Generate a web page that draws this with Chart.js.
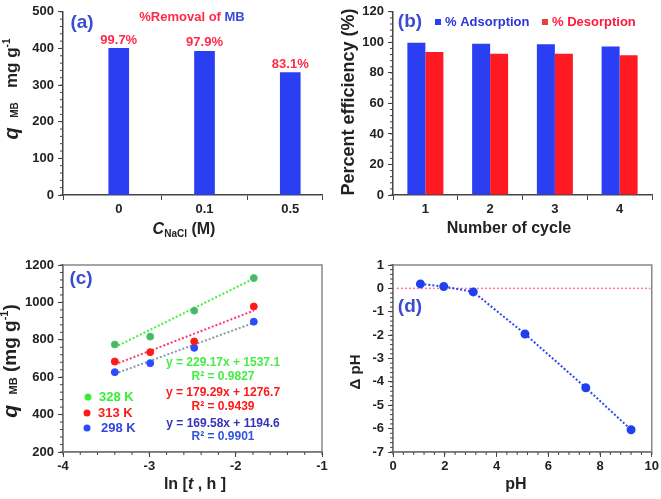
<!DOCTYPE html>
<html>
<head>
<meta charset="utf-8">
<script src="https://cdn.jsdelivr.net/npm/chart.js@4.4.1/dist/chart.umd.min.js"></script>
<style>
  body { margin: 0; background: #fff; }
  #wrap { position: relative; width: 661px; height: 499px; overflow: hidden; }
  .panel { position: absolute; }
</style>
</head>
<body>
<div id="wrap">
  <div class="panel" style="left:0;top:0;width:330px;height:250px"><canvas id="chartA"></canvas></div>
  <div class="panel" style="left:330px;top:0;width:331px;height:250px"><canvas id="chartB"></canvas></div>
  <div class="panel" style="left:0;top:250px;width:330px;height:249px"><canvas id="chartC"></canvas></div>
  <div class="panel" style="left:330px;top:250px;width:331px;height:249px"><canvas id="chartD"></canvas></div>
</div>
<script>
// (a) effect of NaCl
const saltConc = ["0", "0.1", "0.5"];
const qSalt = [400, 392, 334];
const removalLabels = ["99.7%", "97.9%", "83.1%"];

// (b) reuse cycles
const cycles = ["1", "2", "3", "4"];
const adsorption = [99.8, 99.1, 98.7, 97.2];
const desorption = [93.6, 92.5, 92.5, 91.5];

// (c) kinetics, ln t vs q
const lnT = [-3.40, -2.99, -2.48, -1.79];
const q328 = [775, 817, 956, 1130];
const q313 = [684, 734, 791, 978];
const q298 = [627, 675, 757, 897];
// trend line ends (at first and last lnT)
const fitEnds = [-3.40, -1.79];
const fit328 = [760, 1127];
const fit313 = [668, 956];
const fit298 = [618, 891];

// (d) point of zero charge
const pHinit = [1.06, 1.96, 3.1, 5.1, 7.45, 9.2];
const deltaPH = [0.19, 0.08, -0.15, -1.95, -4.25, -6.05];
const zeroEnds = [0.15, 9.95];

const FONT = "'Liberation Sans', Arial, sans-serif";
const BLUE = "#2a3ff2";
const RED = "#ff1a22";
const LABEL_BLUE = "#3a4bd6";
const AXIS = "#444";

Chart.defaults.font.family = FONT;
Chart.defaults.font.size = 13;
Chart.defaults.font.weight = "bold";
Chart.defaults.color = "#222";
Chart.defaults.animation = false;

function pts(xs, ys) {
  return xs.map((x, i) => ({ x: x, y: ys[i] }));
}

// draws a line of text made of pieces (italic, sub, sup), centred at x,y
function rich(ctx, parts, x, y, rot, size) {
  ctx.save();
  ctx.translate(x, y);
  if (rot) ctx.rotate(rot);
  let total = 0;
  parts.forEach(p => {
    ctx.font = (p.i ? "italic " : "") + "bold " + (p.s || size) + "px " + FONT;
    p.w = ctx.measureText(p.t).width;
    total += p.w;
  });
  let cx = -total / 2;
  ctx.textBaseline = "middle";
  ctx.textAlign = "left";
  parts.forEach(p => {
    ctx.font = (p.i ? "italic " : "") + "bold " + (p.s || size) + "px " + FONT;
    ctx.fillStyle = p.c || "#222";
    ctx.fillText(p.t, cx, p.dy || 0);
    cx += p.w;
  });
  ctx.restore();
}

const notesPlugin = {
  id: "notes",
  afterDraw(chart, args, opts) {
    const ctx = chart.ctx;
    (opts.items || []).forEach(it => {
      if (it.dot) {
        ctx.beginPath();
        ctx.arc(it.dot[0], it.dot[1], 3.5, 0, Math.PI * 2);
        ctx.fillStyle = it.c;
        ctx.fill();
      }
      if (it.sq) {
        ctx.fillStyle = it.c;
        ctx.fillRect(it.sq[0], it.sq[1] - 3, 6, 6);
      }
      if (it.parts) {
        rich(ctx, it.parts, it.x, it.y, it.rot, it.s);
      } else if (it.t) {
        ctx.save();
        ctx.font = "bold " + it.s + "px " + FONT;
        ctx.fillStyle = it.c || "#222";
        ctx.textAlign = it.align || "center";
        ctx.textBaseline = "middle";
        ctx.fillText(it.t, it.x, it.y);
        ctx.restore();
      }
    });
  }
};

const minorPlugin = {
  id: "minor",
  afterDraw(chart, args, opts) {
    const ctx = chart.ctx;
    const a = chart.chartArea;
    ctx.save();
    ctx.strokeStyle = opts.color || AXIS;
    ctx.lineWidth = 1;
    if (opts.box) {
      ctx.strokeStyle = "#888";
      ctx.lineWidth = 1.5;
      ctx.strokeRect(a.left, a.top, a.right - a.left, a.bottom - a.top);
      ctx.strokeStyle = opts.color || AXIS;
      ctx.lineWidth = 1;
    }
    ["x", "y"].forEach(k => {
      const step = opts[k];
      if (!step) return;
      const sc = chart.scales[k];
      const n = Math.round((sc.max - sc.min) / step);
      for (let i = 0; i <= n; i++) {
        const p = sc.getPixelForValue(sc.min + i * step);
        ctx.beginPath();
        if (k === "x") { ctx.moveTo(p, a.bottom); ctx.lineTo(p, a.bottom + 3); }
        else { ctx.moveTo(a.left, p); ctx.lineTo(a.left - 3, p); }
        ctx.stroke();
      }
    });
    ctx.restore();
  }
};

const barLabelPlugin = {
  id: "barLabels",
  afterDatasetsDraw(chart, args, opts) {
    if (!opts.labels) return;
    const ctx = chart.ctx;
    const meta = chart.getDatasetMeta(0);
    ctx.save();
    ctx.font = "bold 13px " + FONT;
    ctx.fillStyle = opts.color;
    ctx.textAlign = "center";
    ctx.textBaseline = "bottom";
    meta.data.forEach((bar, i) => {
      ctx.fillText(opts.labels[i], bar.x, bar.y - 2);
    });
    ctx.restore();
  }
};

function yAxis(min, max, step, width) {
  return {
    min: min, max: max,
    ticks: { stepSize: step, padding: 4, callback: v => String(v) },
    grid: { drawOnChartArea: false, tickLength: 5, color: AXIS, tickColor: AXIS },
    border: { color: AXIS, width: 1.5 },
    afterFit: s => { s.width = width; }
  };
}

// ---------- (a) ----------
new Chart(document.getElementById("chartA"), {
  type: "bar",
  data: {
    datasets: [{
      data: qSalt.map((v, i) => ({ x: i, y: v })),
      backgroundColor: BLUE,
      barThickness: 20
    }]
  },
  options: {
    responsive: true,
    maintainAspectRatio: false,
    layout: { padding: { top: 7, right: 8, left: 0, bottom: 0 } },
    plugins: {
      legend: { display: false },
      tooltip: { enabled: false },
      barLabels: { labels: removalLabels, color: "#ff2a4a" },
      minor: { y: 20 },
      notes: {
        items: [
          { t: "(a)", x: 82, y: 23, s: 19, c: LABEL_BLUE },
          { parts: [{ t: "%Removal of ", c: "#ff2a4a" }, { t: "MB", c: LABEL_BLUE }], x: 192, y: 17, s: 13 },
          { parts: [{ t: "q", i: true, s: 20 }, { t: "  " }, { t: "MB", s: 10, dy: 3 }, { t: "   mg g" }, { t: "-1", s: 10, dy: -5 }],
            x: 12, y: 89, rot: -Math.PI / 2, s: 17 },
          { parts: [{ t: "C", i: true }, { t: "NaCl", s: 10, dy: 4 }, { t: " (M)" }], x: 184, y: 230, s: 16 }
        ]
      }
    },
    scales: {
      x: {
        type: "linear",
        offset: false,
        min: -0.65, max: 2.37,
        afterBuildTicks: s => { s.ticks = [-0.65, 0, 0.5, 1, 1.5, 2, 2.37].map(v => ({ value: v })); },
        ticks: {
          padding: 2,
          autoSkip: false,
          maxRotation: 0,
          callback: v => Number.isInteger(v) ? saltConc[v] : ""
        },
        grid: {
          drawOnChartArea: false, offset: false, tickLength: 5,
          tickColor: c => (c.tick && Number.isInteger(c.tick.value)) ? "rgba(0,0,0,0)" : AXIS
        },
        border: { color: AXIS, width: 1.5 },
        afterFit: s => { s.height = 55; }
      },
      y: yAxis(0, 500, 100, 63)
    }
  },
  plugins: [barLabelPlugin, minorPlugin, notesPlugin]
});

// ---------- (b) ----------
new Chart(document.getElementById("chartB"), {
  type: "bar",
  data: {
    labels: cycles,
    datasets: [
      { label: "% Adsorption", data: adsorption, backgroundColor: BLUE },
      { label: "% Desorption", data: desorption, backgroundColor: RED }
    ]
  },
  options: {
    responsive: true,
    maintainAspectRatio: false,
    layout: { padding: { top: 7, right: 9, left: 0, bottom: 0 } },
    datasets: { bar: { barPercentage: 1, categoryPercentage: 0.556 } },
    plugins: {
      legend: { display: false },
      tooltip: { enabled: false },
      minor: { y: 4 },
      notes: {
        items: [
          { t: "(b)", x: 80, y: 22, s: 19, c: LABEL_BLUE },
          { sq: [105, 22], c: BLUE },
          { t: "% Adsorption", x: 115, y: 22, s: 13, c: "#2b35d8", align: "left" },
          { sq: [212, 22], c: "#e8403a" },
          { t: "% Desorption", x: 222, y: 22, s: 13, c: "#ff1a3a", align: "left" },
          { parts: [{ t: "Percent efficiency (%)" }], x: 19, y: 102, rot: -Math.PI / 2, s: 18 },
          { parts: [{ t: "Number of cycle" }], x: 179, y: 229, s: 16 }
        ]
      }
    },
    scales: {
      x: {
        ticks: { padding: 2 },
        grid: { drawOnChartArea: false, offset: true, tickLength: 5, tickColor: AXIS },
        border: { color: AXIS, width: 1.5 },
        afterFit: s => { s.height = 55; }
      },
      y: yAxis(0, 120, 20, 63)
    }
  },
  plugins: [minorPlugin, notesPlugin]
});

// ---------- (c) ----------
function fitSet(ys, color) {
  return {
    data: pts(fitEnds, ys), showLine: true, pointRadius: 0,
    borderColor: color, borderWidth: 2, borderDash: [2, 2], order: 2
  };
}
function ptSet(ys, fill, edge) {
  return {
    data: pts(lnT, ys), pointRadius: 3.5, pointBackgroundColor: fill,
    pointBorderColor: edge, pointBorderWidth: 1, order: 1
  };
}
new Chart(document.getElementById("chartC"), {
  type: "scatter",
  data: {
    datasets: [
      fitSet(fit328, "#44ee44"),
      fitSet(fit313, "#ff3a6a"),
      fitSet(fit298, "#8a9aa8"),
      ptSet(q328, "#5aaa7c", "#33dd44"),
      ptSet(q313, "#ff1a1a", "#ff1a1a"),
      ptSet(q298, "#2a4bff", "#2a4bff")
    ]
  },
  options: {
    responsive: true,
    maintainAspectRatio: false,
    layout: { padding: { top: 15, right: 8, left: 0, bottom: 0 } },
    plugins: {
      legend: { display: false },
      tooltip: { enabled: false },
      minor: { x: 0.2, y: 40, box: true },
      notes: {
        items: [
          { t: "(c)", x: 81, y: 29, s: 19, c: LABEL_BLUE },
          { dot: [88, 147], c: "#33ee33" },
          { t: "328 K", x: 99, y: 147, s: 13, c: "#33ee33", align: "left" },
          { dot: [87, 163], c: "#ff1a1a" },
          { t: "313 K", x: 98, y: 163, s: 13, c: "#ff1a1a", align: "left" },
          { dot: [87, 178], c: "#2a4bff" },
          { t: "298 K", x: 101, y: 178, s: 13, c: "#3344dd", align: "left" },
          { t: "y = 229.17x + 1537.1", x: 223, y: 113, s: 12, c: "#44ee44" },
          { t: "R² = 0.9827", x: 223, y: 127, s: 12, c: "#44ee44" },
          { t: "y = 179.29x + 1276.7", x: 223, y: 143, s: 12, c: "#ff1a1a" },
          { t: "R² = 0.9439", x: 223, y: 157, s: 12, c: "#ff1a1a" },
          { t: "y = 169.58x + 1194.6", x: 223, y: 174, s: 12, c: "#3333bb" },
          { t: "R² = 0.9901", x: 223, y: 187, s: 12, c: "#3355dd" },
          { parts: [{ t: "q", i: true, s: 21 }, { t: "  " }, { t: "MB", s: 11, dy: 3 }, { t: " (mg g" }, { t: "-1", s: 11, dy: -6 }, { t: ")" }],
            x: 11, y: 111, rot: -Math.PI / 2, s: 19 },
          { parts: [{ t: "ln [" }, { t: "t", i: true }, { t: " , h ]" }], x: 195, y: 235, s: 16 }
        ]
      }
    },
    scales: {
      x: {
        type: "linear", min: -4, max: -1,
        ticks: { stepSize: 1, padding: 2 },
        grid: { drawOnChartArea: false, tickLength: 5, tickColor: AXIS },
        border: { color: AXIS, width: 1.5 },
        afterFit: s => { s.height = 47; }
      },
      y: yAxis(200, 1200, 200, 63)
    }
  },
  plugins: [minorPlugin, notesPlugin]
});

// ---------- (d) ----------
new Chart(document.getElementById("chartD"), {
  type: "scatter",
  data: {
    datasets: [
      {
        data: pts(zeroEnds, [0, 0]), showLine: true, pointRadius: 0,
        borderColor: "#ff7aa8", borderWidth: 1.5, borderDash: [2, 2], order: 2
      },
      {
        data: pts(pHinit, deltaPH), showLine: true, pointRadius: 3.5,
        pointBackgroundColor: "#2040f0", pointBorderColor: "#2040f0",
        borderColor: "#2a48ee", borderWidth: 2, borderDash: [2, 2], order: 1
      }
    ]
  },
  options: {
    responsive: true,
    maintainAspectRatio: false,
    layout: { padding: { top: 15, right: 9, left: 0, bottom: 0 } },
    plugins: {
      legend: { display: false },
      tooltip: { enabled: false },
      minor: { x: 0.4, y: 0.2, box: true },
      notes: {
        items: [
          { t: "(d)", x: 80, y: 57, s: 19, c: LABEL_BLUE },
          { parts: [{ t: "Δ pH" }], x: 26, y: 122, rot: -Math.PI / 2, s: 15 },
          { parts: [{ t: "pH" }], x: 186, y: 235, s: 16 }
        ]
      }
    },
    scales: {
      x: {
        type: "linear", min: 0, max: 10,
        ticks: { stepSize: 2, padding: 2 },
        grid: { drawOnChartArea: false, tickLength: 5, tickColor: AXIS },
        border: { color: AXIS, width: 1.5 },
        afterFit: s => { s.height = 47; }
      },
      y: yAxis(-7, 1, 1, 63)
    }
  },
  plugins: [minorPlugin, notesPlugin]
});
</script>
</body>
</html>
